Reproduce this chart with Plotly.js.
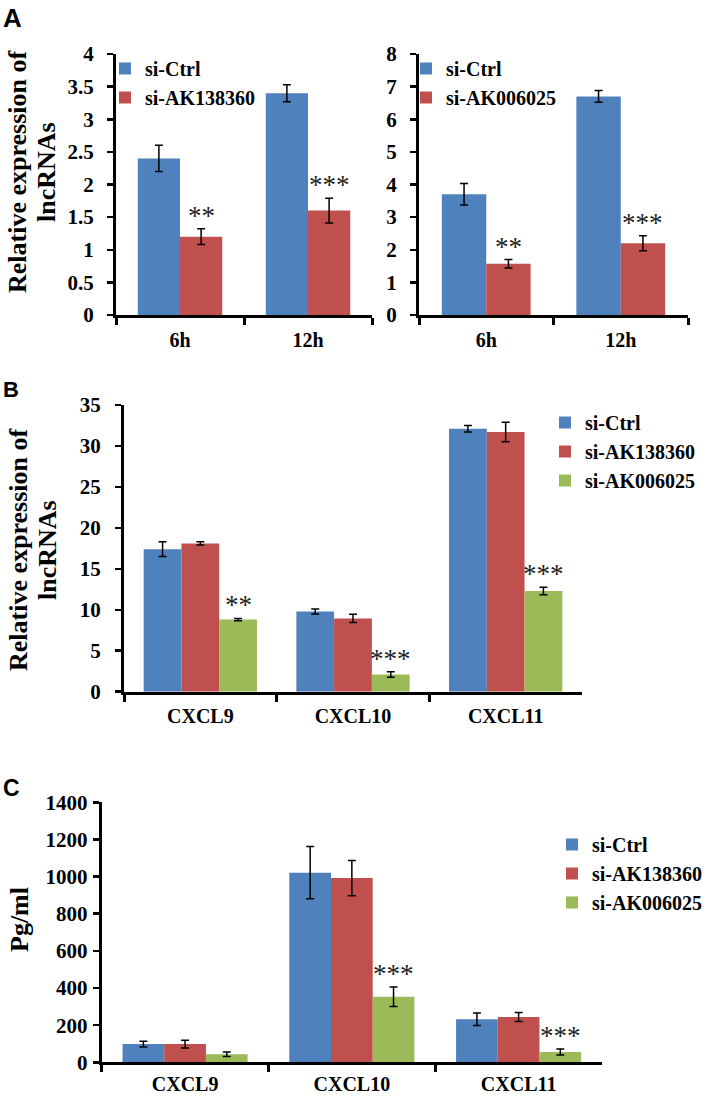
<!DOCTYPE html>
<html>
<head>
<meta charset="utf-8">
<script src="https://cdn.plot.ly/plotly-3.0.1.min.js"></script>
<style>html,body{margin:0;padding:0;background:#fff;}#chart{width:709px;height:1096px;}</style>
</head>
<body>
<div id="chart"></div>
<script>
// ---------- DATA ----------
const timeCats = ['6h', '12h'];
const geneCats = ['CXCL9', 'CXCL10', 'CXCL11'];
const seriesNames = ['si-Ctrl', 'si-AK138360', 'si-AK006025'];

// Panel A (left): si-Ctrl vs si-AK138360
const aLeftCtrl = [2.4, 3.4];
const aLeftCtrlErr = [0.2, 0.13];
const aLeftKd = [1.2, 1.6];
const aLeftKdErr = [0.12, 0.19];
const aLeftSig = ['**', '***'];

// Panel A (right): si-Ctrl vs si-AK006025
const aRightCtrl = [3.7, 6.7];
const aRightCtrlErr = [0.33, 0.18];
const aRightKd = [1.57, 2.2];
const aRightKdErr = [0.13, 0.23];
const aRightSig = ['**', '***'];

// Panel B: relative expression
const bCtrl = [17.4, 9.8, 32.1];
const bCtrlErr = [0.9, 0.3, 0.4];
const bAK138360 = [18.1, 8.95, 31.7];
const bAK138360Err = [0.2, 0.5, 1.2];
const bAK006025 = [8.8, 2.1, 12.3];
const bAK006025Err = [0.15, 0.35, 0.45];
const bSig = ['**', '***', '***'];

// Panel C: Pg/ml
const cCtrl = [98, 1021, 232];
const cCtrlErr = [15, 141, 34];
const cAK138360 = [98, 992, 244];
const cAK138360Err = [21, 95, 24];
const cAK006025 = [43, 353, 55];
const cAK006025Err = [12, 52, 16];
const cSig = ['', '***', '***'];

// ---------- STYLE ----------
const W = 709, H = 1096;
const BLUE = '#4F81BD', RED = '#C0504D', GREEN = '#9BBB59';
const SERIF = 'Times New Roman';
const SERIF2 = 'Liberation Serif';
const SANS = 'Liberation Sans';
const px = v => v / W;
const py = v => 1 - v / H;

function barTrace(x, y, err, name, color, k, n, gap, xa, ya, legend, group) {
  const w = (1 - gap) / n;
  return {
    type: 'bar', x: x, y: y, name: name,
    marker: {color: color, line: {width: 0}},
    width: w, offset: -(1 - gap) / 2 + k * w,
    error_y: {type: 'data', array: err, visible: true, color: '#000', thickness: 1.5, width: 4},
    xaxis: xa, yaxis: ya, legend: legend, legendgroup: group,
    hoverinfo: 'x+y+name'
  };
}

const traces = [
  barTrace(timeCats, aLeftCtrl, aLeftCtrlErr, seriesNames[0], BLUE, 0, 2, 0.34, 'x', 'y', 'legend', 'a1c'),
  barTrace(timeCats, aLeftKd, aLeftKdErr, seriesNames[1], RED, 1, 2, 0.34, 'x', 'y', 'legend', 'a1k'),
  barTrace(timeCats, aRightCtrl, aRightCtrlErr, seriesNames[0], BLUE, 0, 2, 0.34, 'x2', 'y2', 'legend2', 'a2c'),
  barTrace(timeCats, aRightKd, aRightKdErr, seriesNames[2], RED, 1, 2, 0.34, 'x2', 'y2', 'legend2', 'a2k'),
  barTrace(geneCats, bCtrl, bCtrlErr, seriesNames[0], BLUE, 0, 3, 0.258, 'x3', 'y3', 'legend3', 'b1'),
  barTrace(geneCats, bAK138360, bAK138360Err, seriesNames[1], RED, 1, 3, 0.258, 'x3', 'y3', 'legend3', 'b2'),
  barTrace(geneCats, bAK006025, bAK006025Err, seriesNames[2], GREEN, 2, 3, 0.258, 'x3', 'y3', 'legend3', 'b3'),
  barTrace(geneCats, cCtrl, cCtrlErr, seriesNames[0], BLUE, 0, 3, 0.25, 'x4', 'y4', 'legend4', 'c1'),
  barTrace(geneCats, cAK138360, cAK138360Err, seriesNames[1], RED, 1, 3, 0.25, 'x4', 'y4', 'legend4', 'c2'),
  barTrace(geneCats, cAK006025, cAK006025Err, seriesNames[2], GREEN, 2, 3, 0.25, 'x4', 'y4', 'legend4', 'c3')
];

function xAxis(domain, anchor, standoff) {
  return {
    domain: domain, anchor: anchor, type: 'category',
    showline: true, linecolor: '#000', linewidth: 3,
    ticks: 'outside', tickson: 'boundaries', ticklen: 7, tickwidth: 3, tickcolor: '#000',
    showgrid: false, zeroline: false,
    tickfont: {family: SERIF, size: 20, color: '#000', weight: 'bold'},
    ticklabelstandoff: standoff, fixedrange: true
  };
}
function yAxis(domain, anchor, range, dtick, standoff) {
  return {
    domain: domain, anchor: anchor, range: range, dtick: dtick,
    showline: true, linecolor: '#000', linewidth: 3,
    ticks: 'outside', ticklen: 6, tickwidth: 2.5, tickcolor: '#000',
    showgrid: false, zeroline: false,
    tickfont: {family: SERIF, size: 21, color: '#000', weight: 'bold'},
    ticklabelstandoff: standoff, fixedrange: true
  };
}

function legendAt(xpx, ypx, gap) {
  return {
    x: px(xpx), y: py(ypx), xanchor: 'left', yanchor: 'top',
    bgcolor: 'rgba(0,0,0,0)', borderwidth: 0,
    font: {family: SERIF, size: 20, color: '#000', weight: 'bold'},
    tracegroupgap: gap, traceorder: 'normal'
  };
}

const annotations = [];
function sigNotes(sig, vals, errs, offset, xref, yref) {
  sig.forEach((s, i) => {
    if (!s) return;
    annotations.push({
      x: i + offset, y: vals[i] + errs[i], xref: xref, yref: yref,
      text: s, showarrow: false, xanchor: 'center', yanchor: 'bottom', yshift: -4,
      font: {family: SERIF2, size: 27, color: '#222'}
    });
  });
}
sigNotes(aLeftSig, aLeftKd, aLeftKdErr, (1 - 0.34) / 4, 'x', 'y');
sigNotes(aRightSig, aRightKd, aRightKdErr, (1 - 0.34) / 4, 'x2', 'y2');
sigNotes(bSig, bAK006025, bAK006025Err, (1 - 0.258) / 3, 'x3', 'y3');
sigNotes(cSig, cAK006025, cAK006025Err, (1 - 0.25) / 3, 'x4', 'y4');

function textNote(text, xpx, ypx, font, angle, xanchor) {
  annotations.push({
    text: text, x: px(xpx), y: py(ypx), xref: 'paper', yref: 'paper',
    showarrow: false, xanchor: xanchor || 'center', yanchor: 'middle',
    textangle: angle || 0, font: font
  });
}
const panelFont = s => ({family: SANS, size: s, color: '#000', weight: 'bold'});
const titleFont = {family: SERIF2, size: 26, color: '#000', weight: 'bold'};
textNote('A', 1, 18, panelFont(26), 0, 'left');
textNote('B', 1, 389, panelFont(22), 0, 'left');
textNote('C', 1, 788, panelFont(23), 0, 'left');
textNote('Relative expression of', 18, 172, titleFont, -90);
textNote('lncRNAs', 47, 172, titleFont, -90);
textNote('Relative expression of', 18, 550, titleFont, -90);
textNote('lncRNAs', 47, 550, titleFont, -90);
textNote('Pg/ml', 19, 920, titleFont, -90);

const layout = {
  width: W, height: H,
  margin: {l: 0, r: 0, t: 0, b: 0},
  font: {family: SERIF, color: '#000'},
  paper_bgcolor: '#fff', plot_bgcolor: 'rgba(0,0,0,0)',
  barmode: 'group',
  showlegend: true,
  xaxis: xAxis([px(116), px(372)], 'y', 5),
  yaxis: yAxis([py(315), py(54)], 'x', [0, 4], 0.5, 9),
  xaxis2: xAxis([px(419), px(688)], 'y2', 5),
  yaxis2: yAxis([py(315), py(54)], 'x2', [0, 8], 1, 9),
  xaxis3: xAxis([px(124), px(582)], 'y3', 4),
  yaxis3: yAxis([py(691.7), py(405)], 'x3', [0, 35], 5, 10),
  xaxis4: xAxis([px(101.7), px(602)], 'y4', 2),
  yaxis4: yAxis([py(1062.3), py(802.3)], 'x4', [0, 1400], 200, 1),
  legend: legendAt(105, 49, 0),
  legend2: legendAt(406, 49, 2),
  legend3: legendAt(545, 403, 7),
  legend4: legendAt(552, 825, 7),
  annotations: annotations
};

Plotly.newPlot('chart', traces, layout, {staticPlot: true, displayModeBar: false});
</script>
</body>
</html>
